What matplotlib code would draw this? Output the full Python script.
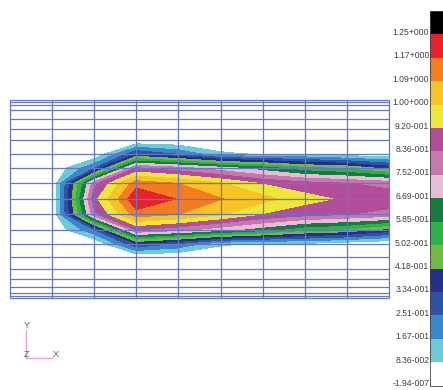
import numpy as np
import matplotlib
matplotlib.use("Agg")
import matplotlib.pyplot as plt
import matplotlib.transforms as mtransforms

# mesh node coordinates (x along plume, y offset from centre line, upper half)
x_nodes = [0, 1, 2, 3, 4, 5, 6, 7, 8, 9]
y_half = [0.0, 15.5, 31.0, 45.0, 58.5, 70.3, 80.3, 88.5, 94.2, 97.0, 99.3]

# nodal values, one row per y_half entry (mirrored for lower half)
z_half = [
    [0.0, 0.0, 0.89, 1.24, 1.165, 1.095, 1.03, 0.95, 0.905, 0.88],
    [0.0, 0.0, 0.806, 1.14, 1.09, 1.01, 0.915, 0.87, 0.84, 0.81],
    [0.0, 0.0, 0.24, 0.84, 0.78, 0.70, 0.62, 0.52, 0.48, 0.38],
    [0.0, 0.0, 0.0, 0.33, 0.24, 0.10, 0.07, 0.07, 0.03, 0.0],
    [0.0, 0.0, 0.0, 0.0, 0.0, 0.0, 0.0, 0.0, 0.0, 0.0],
    [0.0, 0.0, 0.0, 0.0, 0.0, 0.0, 0.0, 0.0, 0.0, 0.0],
    [0.0, 0.0, 0.0, 0.0, 0.0, 0.0, 0.0, 0.0, 0.0, 0.0],
    [0.0, 0.0, 0.0, 0.0, 0.0, 0.0, 0.0, 0.0, 0.0, 0.0],
    [0.0, 0.0, 0.0, 0.0, 0.0, 0.0, 0.0, 0.0, 0.0, 0.0],
    [0.0, 0.0, 0.0, 0.0, 0.0, 0.0, 0.0, 0.0, 0.0, 0.0],
    [0.0, 0.0, 0.0, 0.0, 0.0, 0.0, 0.0, 0.0, 0.0, 0.0],
]

levels = [-1.94e-7, 0.0836, 0.167, 0.251, 0.334, 0.418, 0.502, 0.585,
          0.669, 0.752, 0.836, 0.920, 1.00, 1.09, 1.17, 1.25, 1.33]
level_labels = ["-1.94-007", "8.36-002", "1.67-001", "2.51-001", "3.34-001",
                "4.18-001", "5.02-001", "5.85-001", "6.69-001", "7.52-001",
                "8.36-001", "9.20-001", "1.00+000", "1.09+000", "1.17+000",
                "1.25+000"]
band_colors = ["#ffffff", "#6bcad8", "#3a88c9", "#2f52a3", "#262f87",
               "#70b944", "#2db14a", "#187a3f", "#e4bcd6", "#c578ae",
               "#b44c9c", "#eee63a", "#f7c325", "#f47b20", "#e8222a",
               "#000000"]

W, H = 443, 390
fig = plt.figure(figsize=(W / 100, H / 100), dpi=100)

# build full symmetric grid
y_full = np.array([-v for v in y_half[:0:-1]] + y_half)
z_arr = np.array(z_half)
z_full = np.vstack([z_arr[:0:-1], z_arr])
X, Y = np.meshgrid(x_nodes, y_full)

ax = fig.add_axes([10 / W, (H - 298) / H, 379 / W, (298 - 99.7) / H])
cs = ax.contourf(X, Y, z_full, levels=levels, colors=band_colors)
ax.vlines(x_nodes, y_full[0], y_full[-1], color="#6576c4", lw=0.9, clip_on=False)
ax.hlines(y_full, x_nodes[0], x_nodes[-1], color="#6576c4", lw=0.9, clip_on=False)
ax.set_xlim(x_nodes[0], x_nodes[-1])
ax.set_ylim(y_full[0], y_full[-1])
ax.axis("off")

# colour bar
cax = fig.add_axes([430 / W, (H - 385.6) / H, 12.5 / W, (385.6 - 11) / H])
cbar = fig.colorbar(cs, cax=cax, ticks=levels[:-1], spacing="uniform")
cbar.ax.yaxis.set_ticks_position("left")
cbar.ax.set_yticklabels(level_labels, family="Liberation Sans", fontsize=6.2, color="#404040")
cbar.ax.tick_params(length=0, pad=0.5)
shift = mtransforms.ScaledTranslation(0, 3 / 100, fig.dpi_scale_trans)
for lab in cbar.ax.get_yticklabels():
    lab.set_transform(lab.get_transform() + shift)
cbar.outline.set_linewidth(0.6)
cbar.outline.set_edgecolor("#444444")

# axis triad
ov = fig.add_axes([0, 0, 1, 1])
ov.set_xlim(0, W)
ov.set_ylim(H, 0)
ov.axis("off")
ov.plot([26, 26], [330, 357.5], color="#e6a6d4", lw=1)
ov.plot([26, 53], [357.5, 357.5], color="#e6a6d4", lw=1)
tri = dict(family="Liberation Sans", fontsize=6.5, color="#606060", ha="center", va="center")
ov.text(27, 326, "Y", **tri)
ov.text(56, 354.5, "X", **tri)
ov.text(26.5, 354.5, "Z", **tri)

fig.savefig("out.png", dpi=100)
